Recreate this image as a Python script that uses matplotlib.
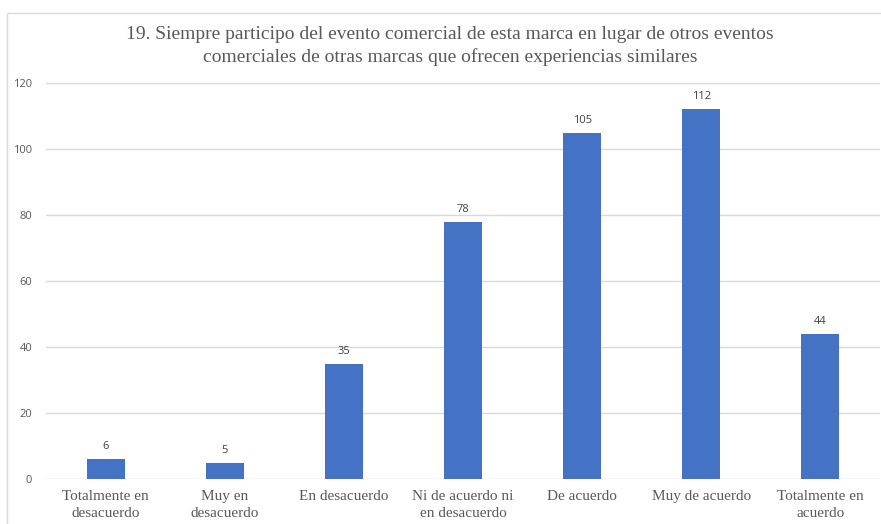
import matplotlib
matplotlib.use("Agg")
import matplotlib.pyplot as plt
from matplotlib.patches import Rectangle

categories = [
    "Totalmente en\ndesacuerdo",
    "Muy en\ndesacuerdo",
    "En desacuerdo",
    "Ni de acuerdo ni\nen desacuerdo",
    "De acuerdo",
    "Muy de acuerdo",
    "Totalmente en\nacuerdo",
]
values = [6, 5, 35, 78, 105, 112, 44]
yticks = [0, 20, 40, 60, 80, 100, 120]
title = ("19. Siempre participo del evento comercial de esta marca en lugar de otros eventos\n"
         "comerciales de otras marcas que ofrecen experiencias similares")

W, H = 881, 524
fig = plt.figure(figsize=(W / 100, H / 100), dpi=100)
fig.patch.set_facecolor("white")

# chart frame
fig.patches.append(Rectangle((7 / W, -0.1), 1.2, (H - 13) / H + 0.1,
                             transform=fig.transFigure, fill=False,
                             edgecolor="#d9d9d9", linewidth=1.0))

ax = fig.add_axes([46 / W, 45 / H, (880 - 46) / W, (479 - 83) / H])
x = range(len(categories))
bars = ax.bar(x, values, width=0.32, color="#4472C4", zorder=3)
ax.set_xlim(-0.5, len(categories) - 0.5)
ax.set_ylim(0, 120)
ax.set_yticks(yticks)
ax.set_yticklabels([str(t) for t in yticks], fontsize=8, color="#595959",
                   family=["Open Sans", "DejaVu Sans"])
ax.grid(axis="y", color="#d9d9d9", linewidth=1, zorder=0)
ax.set_xticks(list(x))
ax.set_xticklabels(categories, fontsize=11, color="#595959",
                   family=["Liberation Serif"], linespacing=1.35)
ax.tick_params(axis="both", length=0)
ax.tick_params(axis="y", pad=10)
ax.tick_params(axis="x", pad=8)
for s in ax.spines.values():
    s.set_visible(False)

for xi, v in zip(x, values):
    ax.annotate(str(v), (xi, v), xytext=(0, 5), textcoords="offset points",
                ha="center", va="bottom", fontsize=8, color="#404040",
                family=["Open Sans", "DejaVu Sans"])

fig.text(450 / W, 1 - 46 / H, title, ha="center", va="center", fontsize=14,
         color="#595959", family=["Liberation Serif"], linespacing=1.3)

fig.savefig("out.png", dpi=100, facecolor="white")
